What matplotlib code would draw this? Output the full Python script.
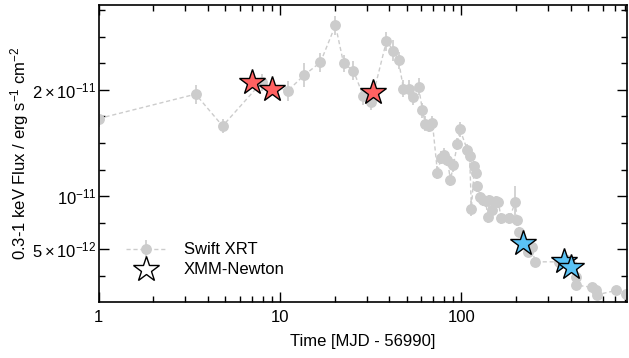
import numpy as np
import matplotlib
matplotlib.use("Agg")
import matplotlib.pyplot as plt
from matplotlib.ticker import FixedLocator, NullFormatter

plt.rcParams['font.family'] = ['Liberation Sans', 'DejaVu Sans']
plt.rcParams['mathtext.fontset'] = 'custom'
plt.rcParams['mathtext.rm'] = 'Liberation Sans'
plt.rcParams['mathtext.it'] = 'Liberation Sans:italic'
plt.rcParams['mathtext.bf'] = 'Liberation Sans:bold'

SCALE = 1e-11

# Swift XRT light curve (time in days since MJD 56990, flux in 1e-11 erg/s/cm2)
swift_t = [1.0, 3.42, 4.82, 7.9, 11.0, 13.6, 16.7, 20.2, 22.4, 25.4, 28.8, 31.9,
           38.6, 42.2, 45.0, 47.9, 51.7, 54.4, 58.0, 61.0, 63.3, 66.6, 69.2,
           73.8, 77.3, 80.6, 83.7, 87.0, 90.3, 95.0, 98.1, 108, 111, 113.5,
           118, 121, 122.5, 127, 131, 136, 140, 142.6, 148, 155, 160, 165.5,
           184, 198, 203.5, 208.7, 234, 246, 254, 347, 380, 410, 428.6, 430,
           527, 552, 561, 712, 808]
swift_f = [1.73, 1.96, 1.66, 2.07, 1.99, 2.14, 2.26, 2.61, 2.25, 2.18, 1.94, 1.89,
           2.46, 2.37, 2.28, 2.01, 2.01, 1.93, 2.03, 1.81, 1.68, 1.66, 1.69,
           1.22, 1.36, 1.39, 1.34, 1.15, 1.29, 1.49, 1.63, 1.43, 1.38, 0.88,
           1.28, 1.22, 1.09, 0.99, 0.96, 0.95, 0.80, 0.96, 0.87, 0.95, 0.94, 0.79,
           0.79, 0.94, 0.77, 0.66, 0.47, 0.52, 0.38, 0.38, 0.40, 0.34, 0.24, 0.16,
           0.14, 0.11, 0.07, 0.11, 0.075]
swift_err = [0.08, 0.09, 0.07, 0.08, 0.09, 0.11, 0.09, 0.09, 0.08, 0.09, 0.08, 0.08,
             0.09, 0.1, 0.08, 0.08, 0.08, 0.07, 0.08, 0.07, 0.07, 0.06, 0.06,
             0.06, 0.06, 0.06, 0.06, 0.06, 0.06, 0.06, 0.07, 0.06, 0.06, 0.07,
             0.05, 0.05, 0.05, 0.05, 0.05, 0.05, 0.05, 0.05, 0.05, 0.05, 0.05, 0.05,
             0.05, 0.15, 0.05, 0.05, 0.04, 0.04, 0.04, 0.04, 0.04, 0.04, 0.04, 0.04,
             0.03, 0.03, 0.03, 0.03, 0.03]

# XMM-Newton observations
xmm_t = [6.97, 8.98, 32.7, 219.6, 369, 404]
xmm_f = [2.075, 2.01, 1.98, 0.557, 0.39, 0.333]
xmm_colors = ['#ff6262', '#ff6262', '#ff6262', '#5ac2f5', '#5ac2f5', '#5ac2f5']

fig = plt.figure(figsize=(6.29, 3.58), dpi=100)
ax = fig.add_axes([0.157, 0.156, 0.84, 0.83])

sw = ax.errorbar(np.array(swift_t), np.array(swift_f) * SCALE,
                 yerr=np.array(swift_err) * SCALE, fmt='o', ls=(0, (3, 2)),
                 color='#cccccc', ecolor='#cccccc', ms=6.8, lw=1, elinewidth=1.2,
                 capsize=0, zorder=2, label='Swift XRT')

for t, f, c in zip(xmm_t, xmm_f, xmm_colors):
    ax.plot(t, f * SCALE, marker='*', ms=19, mfc=c, mec='black', mew=1,
            ls='none', zorder=3)
xmm_handle = ax.plot([], [], marker='*', ms=19, mfc='white', mec='black',
                     mew=1, ls='none', label='XMM-Newton')[0]

ax.set_xscale('log')
ax.set_xlim(1, 820)
ax.set_ylim(0, 2.8e-11)

ax.yaxis.set_major_locator(FixedLocator([5e-12, 1e-11, 2e-11]))
ax.set_yticklabels([r'$5\times10^{-12}$', r'$10^{-11}$', r'$2\times10^{-11}$'])
ax.yaxis.set_minor_locator(FixedLocator(np.arange(2.5e-12, 2.8e-11, 2.5e-12)))
ax.yaxis.set_minor_formatter(NullFormatter())

ax.set_xticks([1, 10, 100])
ax.set_xticklabels(['1', '10', '100'])

ax.tick_params(which='both', direction='in', top=True, right=True, labelsize=12)
ax.tick_params(which='major', length=7, width=1)
ax.tick_params(which='minor', length=4, width=1)
ax.tick_params(axis='x', which='major', pad=6)
ax.tick_params(axis='y', which='major', pad=1.5)
for s in ax.spines.values():
    s.set_linewidth(1.2)

ax.set_xlabel('Time [MJD - 56990]', fontsize=12, labelpad=6)
ax.set_ylabel(r'0.3-1 keV Flux / erg s$^{-1}$ cm$^{-2}$', fontsize=12, labelpad=1)

ax.legend([sw, xmm_handle], ['Swift XRT', 'XMM-Newton'], loc='lower left',
          bbox_to_anchor=(0.035, 0.055), frameon=False, fontsize=12,
          handlelength=2.5, handletextpad=1.0, labelspacing=0.3, borderpad=0)

fig.savefig('out.png', dpi=100)
